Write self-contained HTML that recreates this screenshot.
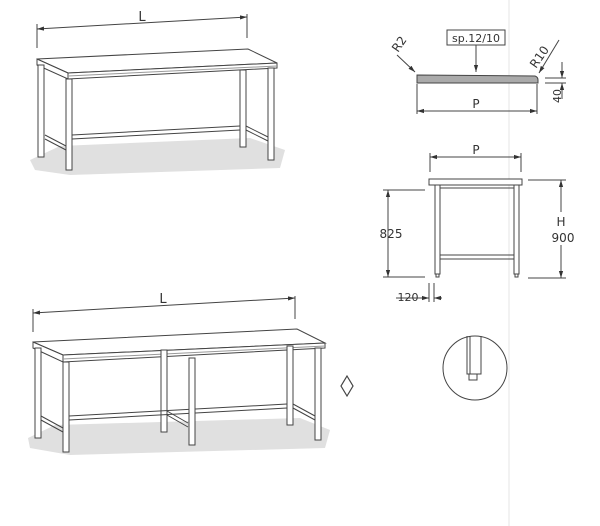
<!DOCTYPE html>
<html><head><meta charset="utf-8"><style>
html,body{margin:0;padding:0;background:#fff;}
svg{display:block;}
text{font-family:"DejaVu Sans","Liberation Sans",sans-serif;fill:#333;}
</style></head><body>
<svg width="600" height="526" viewBox="0 0 600 526" xmlns="http://www.w3.org/2000/svg">
<defs>
<marker id="a" viewBox="0 0 10 10" refX="10" refY="5" markerWidth="7" markerHeight="7" orient="auto-start-reverse"><path d="M0,2 L10,5 L0,8 z" fill="#333"/></marker>
</defs>
<line x1="509" y1="0" x2="509" y2="526" stroke="#e4e4e4" stroke-width="1"/>
<g stroke="#444" stroke-width="1" fill="none">
<polygon points="30,160 60,146 250,138 285,150 280,168 70,175 35,170" fill="#e0e0e0" stroke="none"/>
<line x1="37" y1="24" x2="37" y2="48"/><line x1="247" y1="14" x2="247" y2="38"/>
<line x1="37" y1="29" x2="247" y2="17" marker-start="url(#a)" marker-end="url(#a)"/>
<polygon points="37,59 248,49 277,63 68,73" fill="#fff"/>
<polygon points="37,59 68,73 68,79 37,65" fill="#fff"/>
<polygon points="68,73 277,63 277,68 68,79" fill="#fff"/>
<line x1="68" y1="76" x2="277" y2="66" stroke="#999"/>
<rect x="38" y="65" width="6" height="92" fill="#fff"/>
<rect x="240" y="70" width="6" height="77" fill="#fff"/>
<line x1="45" y1="135" x2="66" y2="146"/><line x1="45" y1="139" x2="66" y2="150"/>
<line x1="246" y1="126" x2="268" y2="137"/><line x1="246" y1="130" x2="268" y2="141"/>
<line x1="72" y1="135" x2="240" y2="126"/><line x1="72" y1="139" x2="240" y2="130"/>
<rect x="66" y="79" width="6" height="91" fill="#fff"/>
<rect x="268" y="68" width="6" height="92" fill="#fff"/>
<polygon points="28,438 55,425 300,418 330,430 325,448 70,455 30,448" fill="#e0e0e0" stroke="none"/>
<line x1="33" y1="309" x2="33" y2="332"/><line x1="295" y1="296" x2="295" y2="319"/>
<line x1="33" y1="313" x2="295" y2="298" marker-start="url(#a)" marker-end="url(#a)"/>
<polygon points="33,342 297,329 325,343 63,355" fill="#fff"/>
<polygon points="33,342 63,355 63,362 33,348" fill="#fff"/>
<polygon points="63,355 325,343 325,348 63,362" fill="#fff"/>
<line x1="63" y1="359" x2="325" y2="346" stroke="#999"/>
<rect x="35" y="348" width="6" height="90" fill="#fff"/>
<rect x="161" y="350" width="6" height="82" fill="#fff"/>
<rect x="287" y="346" width="6" height="79" fill="#fff"/>
<line x1="41" y1="416" x2="63" y2="428"/><line x1="41" y1="420" x2="63" y2="432"/>
<line x1="167" y1="411" x2="188" y2="423"/><line x1="167" y1="415" x2="188" y2="427"/>
<line x1="293" y1="404" x2="315" y2="416"/><line x1="293" y1="408" x2="315" y2="420"/>
<line x1="69" y1="416" x2="287" y2="404"/><line x1="69" y1="420" x2="287" y2="408"/>
<rect x="63" y="362" width="6" height="90" fill="#fff"/>
<rect x="189" y="358" width="6" height="87" fill="#fff"/>
<rect x="315" y="348" width="6" height="92" fill="#fff"/>
<polygon points="347,376 353,386 347,396 341,386" stroke-width="1.2"/>
<rect x="447" y="30" width="58" height="15"/>
<line x1="476" y1="45" x2="476" y2="72" marker-end="url(#a)"/>
<line x1="397" y1="55" x2="415" y2="72" marker-end="url(#a)"/>
<line x1="559" y1="40" x2="539" y2="73" marker-end="url(#a)"/>
<path d="M417,75 L535,76 Q538,77 538,80 L538,83 L417,83 Z" fill="#aaa"/>
<line x1="417" y1="84" x2="417" y2="114"/><line x1="537" y1="84" x2="537" y2="114"/>
<line x1="417" y1="111" x2="537" y2="111" marker-start="url(#a)" marker-end="url(#a)"/>
<line x1="545" y1="78" x2="566" y2="78"/><line x1="545" y1="83" x2="566" y2="83"/>
<line x1="562" y1="62" x2="562" y2="78" marker-end="url(#a)"/>
<line x1="562" y1="99" x2="562" y2="83" marker-end="url(#a)"/>
<line x1="430" y1="153" x2="430" y2="172"/><line x1="521" y1="153" x2="521" y2="172"/>
<line x1="430" y1="157" x2="521" y2="157" marker-start="url(#a)" marker-end="url(#a)"/>
<rect x="429" y="179" width="93" height="6" fill="#fff"/>
<line x1="436" y1="188" x2="519" y2="188"/>
<rect x="435" y="185" width="5" height="89" fill="#fff"/>
<rect x="514" y="185" width="5" height="89" fill="#fff"/>
<rect x="436" y="274" width="3" height="3"/><rect x="515" y="274" width="3" height="3"/>
<rect x="440" y="255" width="74" height="4"/>
<line x1="383" y1="190" x2="425" y2="190"/><line x1="383" y1="277" x2="425" y2="277"/>
<line x1="388" y1="190" x2="388" y2="277" marker-start="url(#a)" marker-end="url(#a)"/>
<line x1="528" y1="180" x2="566" y2="180"/><line x1="528" y1="278" x2="566" y2="278"/>
<line x1="561" y1="180" x2="561" y2="212" marker-start="url(#a)"/>
<line x1="561" y1="245" x2="561" y2="278" marker-end="url(#a)"/>
<line x1="429" y1="283" x2="429" y2="302"/><line x1="434" y1="283" x2="434" y2="302"/>
<line x1="396" y1="298" x2="429" y2="298" marker-end="url(#a)"/>
<line x1="442" y1="298" x2="434" y2="298" marker-end="url(#a)"/>
<circle cx="475" cy="368" r="32"/>
<path d="M467,336 L467,374 L481,374 L481,336"/>
<line x1="470" y1="336" x2="470" y2="374"/>
<rect x="469" y="374" width="8" height="6"/>
</g>
<text x="142" y="21" font-size="13" text-anchor="middle">L</text>
<text x="163" y="303" font-size="13" text-anchor="middle">L</text>
<text x="476" y="42" font-size="11" text-anchor="middle">sp.12/10</text>
<text x="476" y="108" font-size="12" text-anchor="middle">P</text>
<text x="476" y="154" font-size="12" text-anchor="middle">P</text>
<text transform="translate(398,53) rotate(-55)" font-size="12">R2</text>
<text transform="translate(536,69) rotate(-55)" font-size="12">R10</text>
<text transform="translate(561,103) rotate(-90)" font-size="11">40</text>
<text x="391" y="238" font-size="12" text-anchor="middle">825</text>
<text x="561" y="226" font-size="12" text-anchor="middle">H</text>
<text x="563" y="242" font-size="12" text-anchor="middle">900</text>
<text x="408" y="301" font-size="11" text-anchor="middle">120</text>
</svg>
</body></html>
